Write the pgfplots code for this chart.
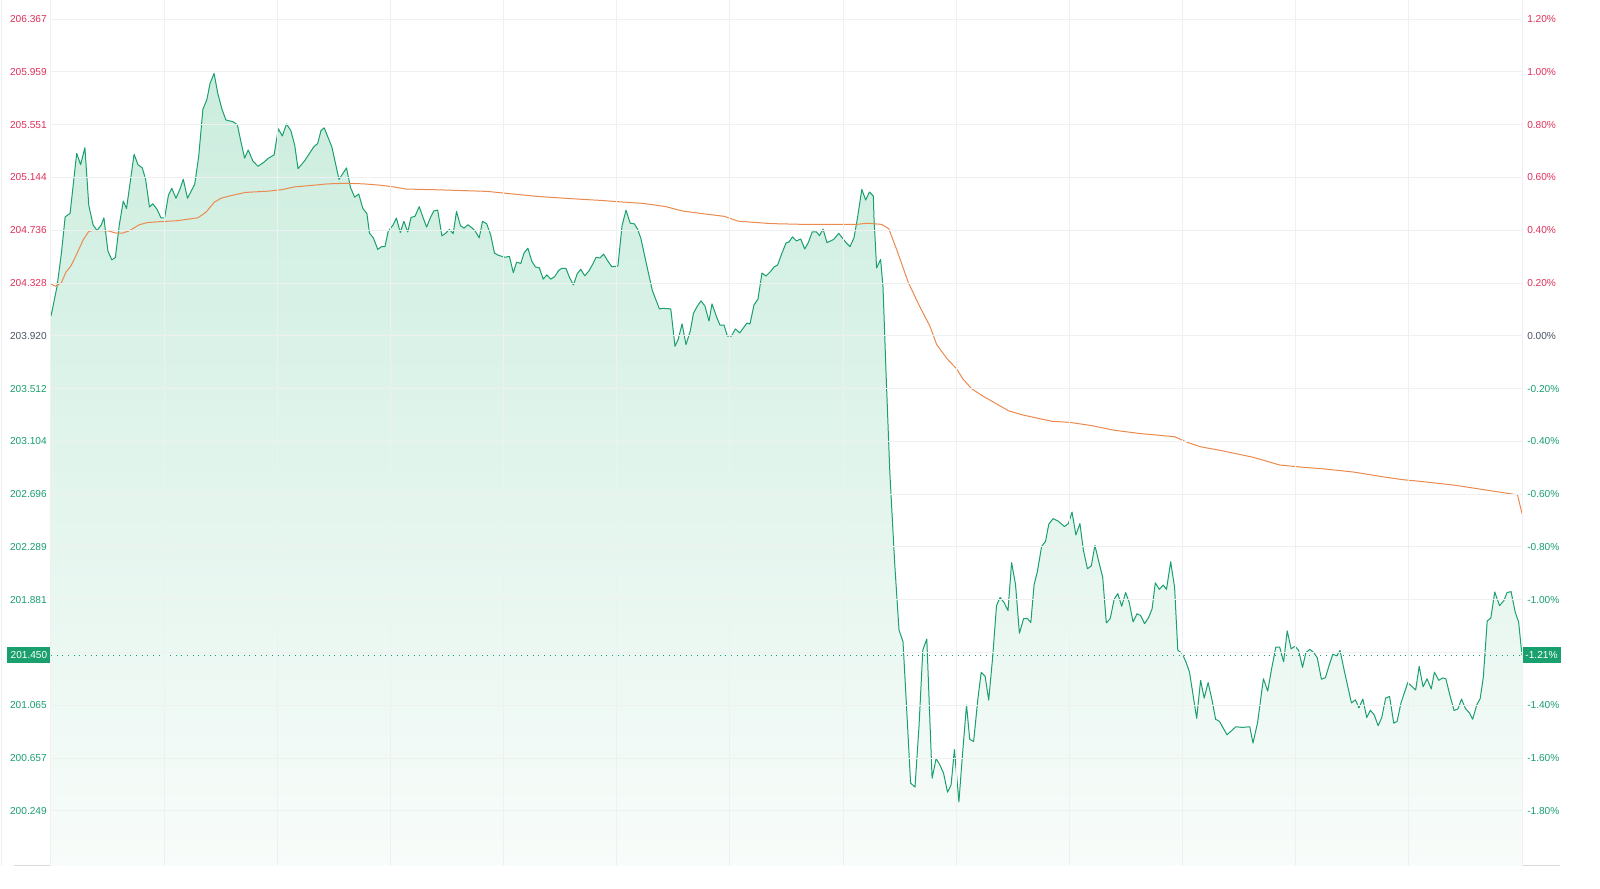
\documentclass[border=0pt]{standalone}
\usepackage{pgfplots}
\pgfplotsset{compat=1.18}
\usepackage{pgfplotstable}
\usepackage{fontspec}
\setmainfont{Liberation Sans}

\definecolor{upred}{HTML}{E0315A}
\definecolor{downgreen}{HTML}{1A9F6E}
\definecolor{flatgray}{HTML}{4A5366}
\definecolor{avgorange}{HTML}{EB8A4E}
\definecolor{gridgray}{HTML}{EEF0F2}
\definecolor{areatop}{HTML}{CBEDDE}
\definecolor{areabot}{HTML}{F8FCFA}

% minute of session, last price
\pgfplotstableread{
m p
0 204.072
1.59 204.299
2.73 204.551
3.76 204.840
5.06 204.865
6.81 205.330
7.85 205.242
8.99 205.374
10.02 204.928
11.16 204.777
12.2 204.734
13.34 204.777
14.03 204.832
15.09 204.575
16.12 204.507
17.07 204.525
18.11 204.777
19.17 204.961
20.02 204.903
22.03 205.323
23.07 205.242
24.21 205.217
25.08 205.129
26.11 204.915
26.99 204.940
28.1 204.898
29.16 204.832
30.12 204.832
31.15 205.008
32.03 205.059
33.14 204.983
34.2 205.054
35.08 205.129
36.19 204.983
38.1 205.091
39.16 205.306
40.27 205.670
41.33 205.746
42.18 205.872
43.24 205.947
44.2 205.796
45.34 205.670
46.37 205.588
48.28 205.574
49.42 205.550
50.27 205.431
51.33 205.293
52.28 205.356
53.5 205.272
54.88 205.230
56.37 205.260
57.67 205.293
59.15 205.318
60.26 205.520
61.32 205.464
62.44 205.557
63.58 205.506
64.61 205.394
65.49 205.212
67.24 205.272
69.68 205.381
70.71 205.406
71.58 205.506
72.43 205.527
74.45 205.381
76.36 205.129
78.34 205.217
79.41 205.066
80.52 204.991
81.58 205.016
82.69 204.903
83.75 204.865
84.44 204.714
85.48 204.676
86.62 204.588
87.65 204.609
88.53 204.609
89.4 204.727
90.7 204.777
91.57 204.830
92.61 204.718
93.56 204.805
94.6 204.722
95.45 204.835
96.5 204.843
97.62 204.918
98.47 204.848
99.58 204.760
100.62 204.835
101.49 204.885
102.52 204.891
103.64 204.692
104.67 204.714
105.6 204.742
106.63 204.710
107.51 204.881
108.54 204.772
109.5 204.752
110.53 204.778
111.57 204.755
112.49 204.728
113.53 204.677
114.4 204.805
115.52 204.785
116.55 204.702
117.58 204.559
118.7 204.541
120.42 204.527
121.53 204.534
122.57 204.408
123.44 204.489
124.56 204.479
125.4 204.559
126.44 204.597
127.47 204.497
128.43 204.452
129.46 204.446
130.5 204.358
131.45 204.391
132.48 204.358
133.49 204.376
134.63 204.426
135.48 204.442
136.51 204.442
137.47 204.371
138.5 204.313
139.54 204.401
140.46 204.434
141.5 204.384
142.64 204.422
143.67 204.476
144.52 204.527
145.55 204.521
146.51 204.551
147.54 204.502
148.66 204.454
150.3 204.459
151.41 204.772
152.45 204.891
153.56 204.790
154.68 204.785
155.55 204.742
156.4 204.672
157.7 204.497
159.42 204.271
161.3 204.128
162.18 204.132
164.32 204.128
165.44 203.839
166.29 203.894
167.32 204.012
168.35 203.852
169.49 203.957
170.34 204.095
171.38 204.150
172.33 204.190
173.37 204.150
174.45 204.034
175.25 204.166
176.57 204.058
177.37 204.003
178.43 204.003
179.33 203.918
180.39 203.918
181.45 203.973
182.59 203.942
184.53 204.019
185.32 204.011
186.38 204.158
187.44 204.204
188.5 204.405
189.56 204.382
190.89 204.421
191.68 204.452
192.64 204.467
193.7 204.552
194.87 204.637
195.66 204.645
196.59 204.684
197.63 204.653
198.77 204.668
199.83 204.591
200.78 204.640
201.84 204.724
202.87 204.724
203.75 204.694
204.68 204.745
205.74 204.640
207.52 204.665
208.84 204.712
210.78 204.640
211.84 204.609
212.9 204.678
213.83 204.833
214.97 205.051
216.0 204.969
216.98 205.031
218.02 205.000
218.2 204.830
218.89 204.444
219.95 204.510
220.59 204.297
221.38 203.643
222.39 202.868
223.71 202.149
224.83 201.647
225.89 201.556
226.76 201.090
227.9 200.464
229.07 200.433
230.13 200.901
231.14 201.492
232.2 201.577
233.6 200.501
234.66 200.652
235.62 200.607
236.65 200.539
237.69 200.393
238.64 200.450
239.52 200.723
240.71 200.318
241.67 200.690
242.73 201.067
243.57 200.803
244.61 200.785
245.75 201.117
246.62 201.319
247.66 201.289
248.61 201.105
249.65 201.433
250.68 201.835
251.64 201.898
252.67 201.860
253.73 201.797
254.68 202.167
255.72 201.998
256.75 201.621
257.86 201.734
258.92 201.734
259.77 201.704
260.65 201.998
261.52 202.099
262.64 202.293
263.67 202.331
264.54 202.464
265.66 202.507
266.98 202.489
268.71 202.446
269.74 202.469
270.7 202.558
271.73 202.381
272.79 202.469
273.72 202.263
274.78 202.120
275.81 202.142
276.77 202.300
277.8 202.174
278.83 202.054
279.79 201.702
280.82 201.734
281.88 201.885
282.84 201.928
283.87 201.830
284.91 201.936
285.86 201.860
286.89 201.709
287.93 201.772
288.88 201.759
289.94 201.696
290.98 201.742
291.93 201.810
292.78 202.011
293.84 201.961
294.87 201.994
295.75 201.961
296.86 202.174
297.9 201.974
298.74 201.491
299.86 201.467
300.89 201.401
301.85 201.321
303.75 200.964
304.79 201.258
305.74 201.120
306.78 201.240
307.81 201.107
308.77 200.957
309.8 200.940
311.79 200.837
312.82 200.864
314.12 200.899
315.85 200.894
317.83 200.899
318.68 200.773
319.9 200.932
321.44 201.270
322.58 201.175
323.61 201.346
324.73 201.514
325.76 201.514
326.8 201.401
327.75 201.640
328.79 201.501
329.82 201.521
330.78 201.489
331.81 201.358
332.69 201.471
333.72 201.497
334.84 201.471
335.71 201.433
336.82 201.266
337.86 201.278
338.89 201.376
339.85 201.459
340.88 201.447
341.76 201.489
342.87 201.333
344.78 201.083
345.82 201.107
346.77 201.045
347.81 201.113
348.84 200.970
349.79 201.027
350.83 200.990
351.86 200.907
352.82 200.970
353.85 201.120
354.89 201.133
356.0 200.927
356.88 200.940
357.91 201.083
359.72 201.240
361.81 201.183
362.74 201.366
363.77 201.208
364.83 201.270
365.94 201.191
366.79 201.321
367.93 201.258
368.96 201.276
369.81 201.270
370.87 201.145
371.98 201.025
373.01 201.037
373.97 201.113
375.0 201.040
376.04 201.007
376.91 200.957
378.03 201.070
378.9 201.115
379.75 201.283
380.78 201.717
381.74 201.739
382.77 201.940
384.05 201.835
385.19 201.873
386.04 201.936
387.1 201.943
388.2 201.785
389.1 201.709
390 201.450
}\price

% minute of session, average price
\pgfplotstableread{
m p
0 204.319
1.17 204.303
2.73 204.329
3.95 204.411
5.33 204.462
6.81 204.551
8.56 204.663
10.02 204.727
11.16 204.734
15.09 204.731
17.23 204.714
18.98 204.714
20.73 204.731
23.33 204.777
25.5 204.795
28.98 204.802
33.33 204.809
38.97 204.832
41.15 204.877
43.32 204.953
45.07 204.983
47.67 205.003
51.59 205.028
57.67 205.038
61.14 205.049
64.61 205.071
69.83 205.084
73.31 205.094
78.53 205.099
82.88 205.094
87.23 205.084
90.7 205.071
94.17 205.054
102.76 205.048
115.67 205.036
120.0 205.023
128.59 204.998
137.2 204.981
145.82 204.966
150.99 204.955
157.01 204.943
163.03 204.918
167.32 204.885
171.64 204.868
178.53 204.843
182.14 204.806
190.89 204.787
199.64 204.781
213.64 204.781
216.26 204.790
220.21 204.781
222.1 204.748
224.4 204.571
227.29 204.332
230.18 204.155
233.07 203.991
234.82 203.852
237.71 203.738
240.02 203.668
241.77 203.587
244.08 203.511
246.97 203.456
250.44 203.398
253.91 203.340
257.39 203.310
261.44 203.284
265.5 203.259
270.14 203.251
275.92 203.226
281.7 203.191
288.64 203.165
297.92 203.140
301.4 203.095
304.87 203.062
310.65 203.031
318.77 202.981
325.71 202.922
331.49 202.905
337.3 202.892
345.41 202.867
352.36 202.834
358.14 202.809
362.78 202.796
372.03 202.766
378.98 202.735
388.81 202.691
390 202.547
}\average

\begin{document}
\begin{tikzpicture}[x=0.75pt,y=0.75pt]
\fill[white] (0,0) rectangle (1600,889);
\draw[gridgray, line width=0.75pt] (1.5,23) -- (1.5,889);
\draw[gridgray!80!gray, line width=0.75pt] (14,23) -- (1560,23);

\begin{axis}[
  at={(38.25pt,17.25pt)}, anchor=south west,
  scale only axis, width=1103.25pt, height=649.5pt,
  xmin=0, xmax=390, ymin=199.823, ymax=206.515,
  clip=false, axis on top,
  axis line style={draw=none}, major tick length=0pt,
  xtick={0,30,...,390}, xticklabels={},
  ytick={200.249,200.657,201.065,201.473,201.881,202.289,202.696,203.104,203.512,203.920,204.328,204.736,205.144,205.551,205.959,206.367},
  yticklabels={
    \textcolor{downgreen}{200.249},\textcolor{downgreen}{200.657},\textcolor{downgreen}{201.065},{},
    \textcolor{downgreen}{201.881},\textcolor{downgreen}{202.289},\textcolor{downgreen}{202.696},\textcolor{downgreen}{203.104},
    \textcolor{downgreen}{203.512},\textcolor{flatgray}{203.920},\textcolor{upred}{204.328},\textcolor{upred}{204.736},
    \textcolor{upred}{205.144},\textcolor{upred}{205.551},\textcolor{upred}{205.959},\textcolor{upred}{206.367}},
  yticklabel style={anchor=east, inner sep=0pt, xshift=-3pt, font=\fontsize{7.6}{9}\selectfont},
  grid=major, major grid style={gridgray, line width=0.75pt},
]
  \addplot[draw=none, top color=areatop, bottom color=areabot] table[x=m, y=p] {\price}
    -- (axis cs:390,199.823) -- (axis cs:0,199.823) -- cycle;
  \addplot[downgreen, line width=0.75pt, line join=round] table[x=m, y=p] {\price};
  \addplot[avgorange, line width=0.75pt, line join=round] table[x=m, y=p] {\average};
  \addplot[downgreen, line width=0.75pt, dash pattern=on 0.75pt off 3.5pt] coordinates {(0,201.450) (390,201.450)};
  \node[anchor=east, fill=downgreen, text=white, inner xsep=2.6pt, inner ysep=0pt,
        minimum height=12pt, font=\fontsize{7.6}{9}\selectfont] at (axis cs:0,201.450) {201.450};
  \node[anchor=west, fill=downgreen, text=white, inner xsep=2.4pt, inner ysep=0pt,
        minimum height=12pt, font=\fontsize{7.6}{9}\selectfont] at (axis cs:390,201.450) {-1.21\%};
\end{axis}

\begin{axis}[
  at={(38.25pt,17.25pt)}, anchor=south west,
  scale only axis, width=1103.25pt, height=649.5pt,
  xmin=0, xmax=390, ymin=199.823, ymax=206.515,
  axis line style={draw=none}, major tick length=0pt,
  xtick=\empty, yticklabel pos=right,
  ytick={200.249,200.657,201.065,201.473,201.881,202.289,202.696,203.104,203.512,203.920,204.328,204.736,205.144,205.551,205.959,206.367},
  yticklabels={
    \textcolor{downgreen}{-1.80\%},\textcolor{downgreen}{-1.60\%},\textcolor{downgreen}{-1.40\%},{},
    \textcolor{downgreen}{-1.00\%},\textcolor{downgreen}{-0.80\%},\textcolor{downgreen}{-0.60\%},\textcolor{downgreen}{-0.40\%},
    \textcolor{downgreen}{-0.20\%},\textcolor{flatgray}{0.00\%},\textcolor{upred}{0.20\%},\textcolor{upred}{0.40\%},
    \textcolor{upred}{0.60\%},\textcolor{upred}{0.80\%},\textcolor{upred}{1.00\%},\textcolor{upred}{1.20\%}},
  yticklabel style={anchor=west, inner sep=0pt, xshift=3.75pt, font=\fontsize{7.6}{9}\selectfont},
]
  \addplot[draw=none] coordinates {(0,203.920) (390,203.920)};
\end{axis}
\pgfresetboundingbox
\useasboundingbox (0,0) rectangle (1600,889);
\end{tikzpicture}
\end{document}
